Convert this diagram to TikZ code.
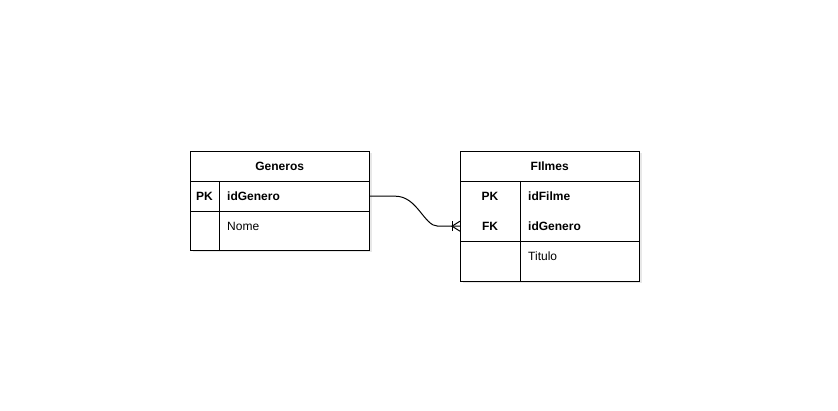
\documentclass[tikz,border=0pt]{standalone}
\usepackage{fontspec}
\setmainfont{Liberation Sans}
\usetikzlibrary{shadows}
\begin{document}
\begin{tikzpicture}[x=1pt,y=-1pt,
  tbl/.style={draw=black, line width=1pt, fill=white, anchor=north west, inner sep=0pt,
    drop shadow={opacity=0.18, shadow xshift=2pt, shadow yshift=-2pt}},
  row/.style={anchor=north west, inner sep=0pt},
  lbl/.style={font=\fontsize{12}{14}\selectfont, inner sep=0pt},
  hdr/.style={font=\bfseries\fontsize{12}{14}\selectfont, inner sep=0pt},
  sep/.style={line width=1pt},
  rel/.style={line width=1pt}]
\useasboundingbox (0,0) rectangle (838,411);

% Generos table
\node[tbl, minimum width=179pt, minimum height=99pt] (gen) at (190,151) {};
\node[row, minimum width=179pt, minimum height=30pt] (genhead) at (190,151) {};
\node[row, minimum width=179pt, minimum height=30pt] (genrow1) at (190,181) {};
\node[row, minimum width=179pt, minimum height=39pt] (genrow2) at (190,211) {};
\draw[sep] (genhead.south west) -- (genhead.south east);
\draw[sep] (genrow1.south west) -- (genrow1.south east);
\draw[sep] ([xshift=29pt]genrow1.north west) -- ([xshift=29pt]genrow2.south west);
\node[hdr] (genT) at (genhead.center) {Generos};
\node[hdr] (genPK) at (204.5,196) {PK};
\node[hdr, anchor=west] (genId) at (227,196) {idGenero};
\node[lbl, anchor=west] (genNome) at (227,226) {Nome};

% Filmes table
\node[tbl, minimum width=179pt, minimum height=130pt] (fil) at (460,151) {};
\node[row, minimum width=179pt, minimum height=30pt] (filhead) at (460,151) {};
\node[row, minimum width=179pt, minimum height=30pt] (filrow1) at (460,181) {};
\node[row, minimum width=179pt, minimum height=30pt] (filrow2) at (460,211) {};
\node[row, minimum width=179pt, minimum height=40pt] (filrow3) at (460,241) {};
\draw[sep] (filhead.south west) -- (filhead.south east);
\draw[sep] (filrow2.south west) -- (filrow2.south east);
\draw[sep] ([xshift=60pt]filrow1.north west) -- ([xshift=60pt]filrow3.south west);
\node[hdr] (filT) at (filhead.center) {FIlmes};
\node[hdr] (filPK) at (490,196) {PK};
\node[hdr, anchor=west] (filId) at (528,196) {idFilme};
\node[hdr] (filFK) at (490,226) {FK};
\node[hdr, anchor=west] (filGen) at (528,226) {idGenero};
\node[lbl, anchor=west] (filTit) at (528,256) {Titulo};

% Relationship
\coordinate (bar) at ([xshift=-8pt]filrow2.west);
\draw[rel] (genrow1.east) -- ++(26,0) .. controls ++(22,0) and ([xshift=-28pt]bar) .. ([xshift=-14pt]bar) -- (filrow2.west);
\draw[rel] ([yshift=-5pt]bar) -- ([yshift=5pt]bar);
\draw[rel] ([yshift=-5pt]filrow2.west) -- (bar) -- ([yshift=5pt]filrow2.west);
\end{tikzpicture}
\end{document}
